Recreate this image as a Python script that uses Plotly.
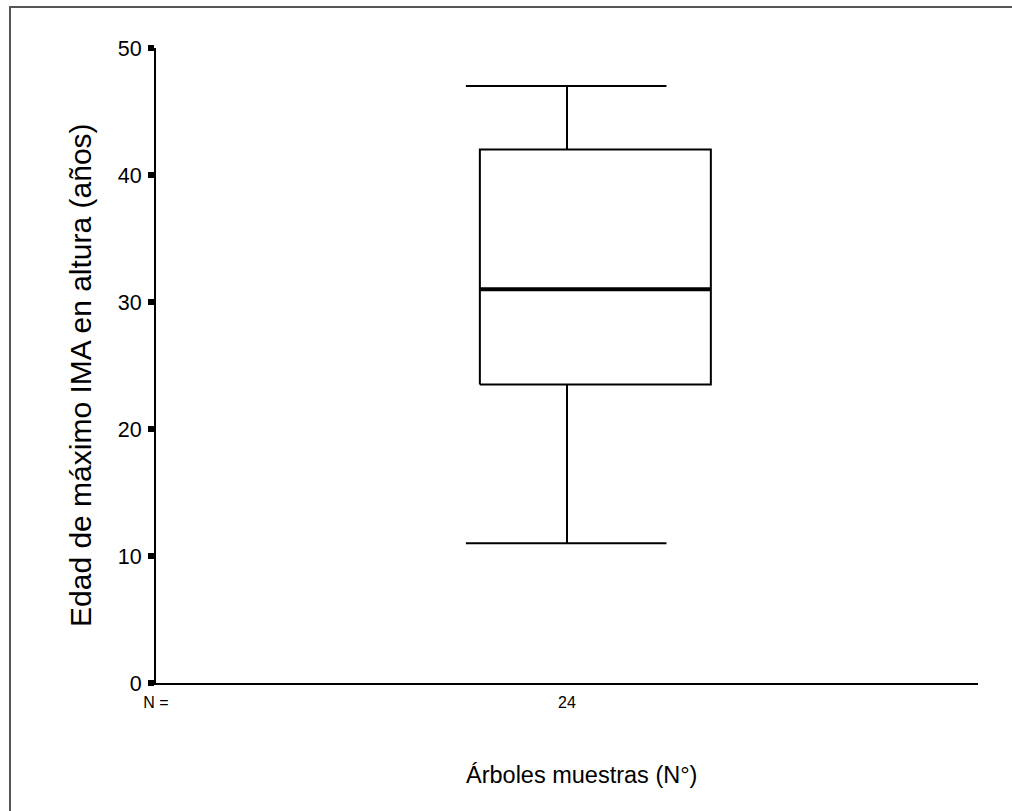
import plotly.graph_objects as go

# Box-plot summary statistics
stat_names = ["lower_whisker", "q1", "median", "q3", "upper_whisker"]
stat_values = [11.0, 23.5, 31.0, 42.0, 47.0]
n_label = ["24"]
y_ticks = [0, 10, 20, 30, 40, 50]
x_title = "Árboles muestras (N°)"
y_title = "Edad de máximo IMA en altura (años)"

s = dict(zip(stat_names, stat_values))

# layout positions (in x-axis units, axis spans 0..1)
wx = 0.5            # whisker position / category centre
box_x0, box_x1 = 0.394, 0.675
cap_x0, cap_x1 = 0.377, 0.621

line = dict(color="black", width=2)
fig = go.Figure()
fig.add_trace(go.Scatter(x=[wx, wx], y=[s["q3"], s["upper_whisker"]], mode="lines", line=line, hoverinfo="skip"))
fig.add_trace(go.Scatter(x=[wx, wx], y=[s["lower_whisker"], s["q1"]], mode="lines", line=line, hoverinfo="skip"))
fig.add_trace(go.Scatter(x=[cap_x0, cap_x1], y=[s["upper_whisker"]] * 2, mode="lines", line=line, hoverinfo="skip"))
fig.add_trace(go.Scatter(x=[cap_x0, cap_x1], y=[s["lower_whisker"]] * 2, mode="lines", line=line, hoverinfo="skip"))
fig.add_trace(go.Scatter(x=[box_x0, box_x1, box_x1, box_x0, box_x0],
                         y=[s["q1"], s["q1"], s["q3"], s["q3"], s["q1"]],
                         mode="lines", fill="toself", fillcolor="white", line=line, hoverinfo="skip"))
fig.add_trace(go.Scatter(x=[box_x0, box_x1], y=[s["median"]] * 2, mode="lines",
                         line=dict(color="black", width=4), hoverinfo="skip"))

font = "Liberation Sans, Arial, sans-serif"
L, R, T, B = 156, 34, 48, 128
W, H = 1012, 811
pw, ph = W - L - R, H - T - B


def px_x(p):
    return (p - L) / pw


def px_y(p):
    return (T + ph - p) / ph


fig.update_layout(
    width=W, height=H,
    margin=dict(l=L, r=R, t=T, b=B),
    paper_bgcolor="white", plot_bgcolor="white",
    showlegend=False,
    font=dict(family=font, color="black"),
    xaxis=dict(range=[0, 1], showgrid=False, zeroline=False, showline=True,
               linecolor="black", linewidth=2, ticks="",
               tickvals=[0, wx], ticktext=["N ="] + n_label,
               tickfont=dict(size=16), ticklabelstandoff=4, fixedrange=True),
    yaxis=dict(range=[0, 50], tickvals=y_ticks, showgrid=False, zeroline=False,
               showline=True, linecolor="black", linewidth=2,
               ticks="outside", ticklen=6, tickwidth=6, tickcolor="black",
               tickfont=dict(size=21.5), ticklabelstandoff=2, fixedrange=True),
    annotations=[
        dict(text=x_title, xref="paper", yref="paper", x=px_x(581), y=px_y(775),
             xanchor="center", yanchor="middle", showarrow=False, font=dict(size=23.5)),
        dict(text=y_title, xref="paper", yref="paper", x=px_x(80), y=px_y(375),
             xanchor="center", yanchor="middle", showarrow=False, textangle=-90,
             font=dict(size=30)),
    ],
    shapes=[dict(type="rect", xref="paper", yref="paper",
                 x0=px_x(10), x1=px_x(1030),
                 y0=px_y(830), y1=px_y(7),
                 line=dict(color="#555555", width=2), layer="below")],
)

fig.write_html("out.html", config={"displayModeBar": False},
               post_script="document.body.style.margin='0';")
